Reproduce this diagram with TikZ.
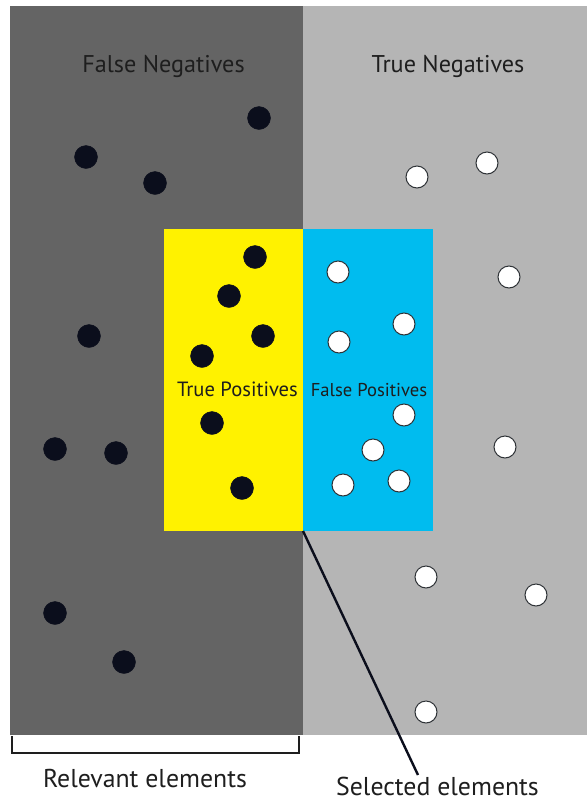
\documentclass[tikz,border=0pt]{standalone}
\usepackage{fontspec}
\setmainfont{PT Sans}
\definecolor{darkreg}{HTML}{646464}
\definecolor{lightreg}{HTML}{B5B5B5}
\definecolor{tpyellow}{HTML}{FFF200}
\definecolor{fpblue}{HTML}{00BCEF}
\definecolor{dotdark}{HTML}{0B0E1C}
\definecolor{ringgray}{HTML}{2E3236}
\definecolor{txt}{HTML}{1E1E1E}
\tikzset{
  x=1pt, y=-1pt,
  region/.style={draw=none, inner sep=0pt, outer sep=0pt, anchor=north west},
  reldot/.style={circle, fill=dotdark, draw=dotdark, minimum size=23pt, inner sep=0pt},
  irrdot/.style={circle, fill=white, draw=ringgray, line width=1pt, minimum size=22pt, inner sep=0pt},
  lbl/.style={text=txt, font=\fontsize{#1}{#1}\selectfont, inner sep=0pt, anchor=base},
}
\begin{document}
\begin{tikzpicture}
\useasboundingbox (0,0) rectangle (587,801);
\fill[white] (0,0) rectangle (587,801);
% regions
\node[region, fill=darkreg, minimum width=293pt, minimum height=729pt] (fn) at (10,6) {};
\node[region, fill=lightreg, minimum width=284pt, minimum height=729pt] (tn) at (303,6) {};
\node[region, fill=tpyellow, minimum width=139pt, minimum height=302pt] (tp) at (164,229) {};
\node[region, fill=fpblue, minimum width=130pt, minimum height=302pt] (fp) at (303,229) {};
% labels
\node[lbl=24.2] (fnl) at (163.5,72) {False Negatives};
\node[lbl=24.2] (tnl) at (448,72) {True Negatives};
\node[lbl=20.6] (tpl) at (237.5,396) {True Positives};
\node[lbl=18.6] (fpl) at (369,396) {False Positives};
% relevant dots
\foreach \n/\x/\y in {a/259/118, b/86/157, c/155/183, d/89/336, e/55/449, f/116/453, g/55/613, h/124/662,
  i/255/257, j/229/296, k/263/336, l/202/356, m/212/423, o/242/488}
  \node[reldot] (r\n) at (\x,\y) {};
% irrelevant dots
\foreach \n/\x/\y in {a/338/272, b/404/324, c/339/342, d/404/415, e/373/450, f/343/485, g/399/481,
  h/417/177, i/487/163, j/509/277, k/505/447, l/426/577, m/536/595, o/426/712}
  \node[irrdot] (w\n) at (\x,\y) {};
% bracket
\coordinate (bl) at (12,736);
\coordinate (br) at (299,736);
\draw[line width=1.3pt, color=txt] (bl) -- ++(0,17) -| (br);
\node[lbl=25.8] (rel) at (145,787) {Relevant elements};
\node[lbl=25.8] (sel) at (437.5,795) {Selected elements};
% selection line
\coordinate (corner) at (303,531);
\coordinate (lineend) at (418,775);
\draw[line width=2.4pt, color=dotdark] (corner) -- (lineend);
\end{tikzpicture}
\end{document}
